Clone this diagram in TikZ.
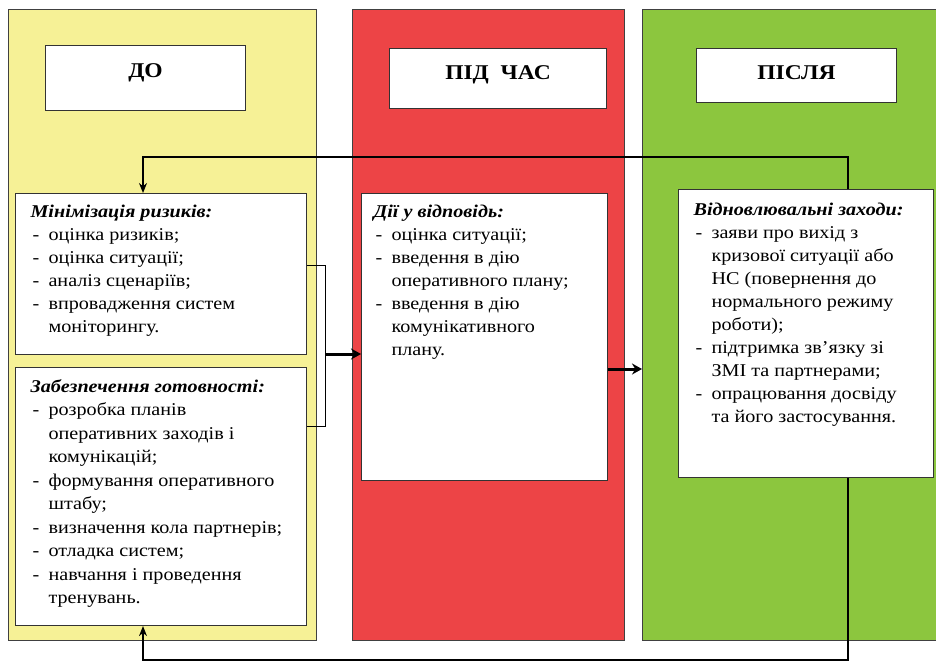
\documentclass[tikz,border=0pt]{standalone}
\usepackage{fontspec}
\setmainfont[FakeStretch=1.12]{Liberation Serif}
\usetikzlibrary{arrows.meta,calc,positioning}

\definecolor{doyellow}{RGB}{246,241,150}
\definecolor{pidred}{RGB}{237,68,70}
\definecolor{pislyagreen}{RGB}{140,198,62}

\newcommand{\itm}{\makebox[18pt][l]{\hspace{2pt}-}}
\newcommand{\cnt}{\hspace*{18pt}}

\tikzstyle{panel}=[
  draw=black!75,
  line width=0.8pt,
  anchor=north west,
  inner sep=0pt,
]
\tikzstyle{header}=[
  draw=black!80,
  fill=white,
  line width=1pt,
  anchor=north west,
  inner sep=0pt,
  font={\fontsize{21}{24}\selectfont\bfseries},
]
\tikzstyle{stage}=[
  draw=black!80,
  fill=white,
  line width=1.1pt,
  anchor=north west,
  inner xsep=15pt,
  inner ysep=8pt,
  font={\fontsize{18}{23}\selectfont},
]
\tikzstyle{link}=[
  draw=black,
  line width=1.4pt,
  -{Stealth[length=10pt,width=8pt]},
]
\tikzstyle{flow}=[
  draw=black,
  line width=3pt,
  -{Stealth[length=10pt,width=11pt]},
]
\tikzstyle{bracket}=[
  draw=black,
  line width=0.9pt,
]

\begin{document}
\begin{tikzpicture}[x=1pt, y=-1pt]
  \useasboundingbox (0,0) rectangle (936,661);
  %% columns
  \node (do) [panel, fill=doyellow, minimum width=308pt, minimum height=631pt] at (8,9) {};
  \node (pid) [panel, fill=pidred, minimum width=272pt, minimum height=631pt] at (352,9) {};
  \node (posle) [panel, fill=pislyagreen, minimum width=300pt, minimum height=631pt] at (642,9) {};
  %% titles
  \node (doh) [header] at (45,45) {\parbox[c][65pt][t]{200pt}{\centering\rule{0pt}{32pt}ДО}};
  \node (pidh) [header] at (389,48) {\parbox[c][60pt][t]{217pt}{\centering\rule{0pt}{31pt}ПІД\ \ ЧАС}};
  \node (pislyah) [header] at (696,48) {\parbox[c][54pt][t]{200pt}{\centering\rule{0pt}{31pt}ПІСЛЯ}};
  %% stages
  \node (mini) [stage] at (15,193) {\parbox[c][145pt][t]{261pt}{\raggedright
    \strut\textbf{\textit{Мінімізація ризиків:}}\\
    \itm оцінка ризиків;\\
    \itm оцінка ситуації;\\
    \itm аналіз сценаріїв;\\
    \itm впровадження систем\\
    \cnt моніторингу.}};
  \node (zab) [stage, font={\fontsize{18}{23.5}\selectfont}] at (15,367) {\parbox[c][242pt][t]{261pt}{\raggedright
    \strut\textbf{\textit{Забезпечення готовності:}}\\
    \itm розробка планів\\
    \cnt оперативних заходів і\\
    \cnt комунікацій;\\
    \itm формування оперативного\\
    \cnt штабу;\\
    \itm визначення кола партнерів;\\
    \itm отладка систем;\\
    \itm навчання і проведення\\
    \cnt тренувань.}};
  \node (dii) [stage, inner xsep=12pt] at (361,193) {\parbox[c][271pt][t]{222pt}{\raggedright
    \strut\textbf{\textit{Дії у відповідь:}}\\
    \itm оцінка ситуації;\\
    \itm введення в дію\\
    \cnt оперативного плану;\\
    \itm введення в дію\\
    \cnt комунікативного\\
    \cnt плану.}};
  \node (vidn) [stage, inner ysep=10pt] at (678,189) {\parbox[c][268pt][t]{225pt}{\raggedright
    \strut\textbf{\textit{Відновлювальні заходи:}}\\
    \itm заяви про вихід з\\
    \cnt кризової ситуації або\\
    \cnt НС (повернення до\\
    \cnt нормального режиму\\
    \cnt роботи);\\
    \itm підтримка зв’язку зі\\
    \cnt ЗМІ та партнерами;\\
    \itm опрацювання досвіду\\
    \cnt та його застосування.}};
  %% loops
  \coordinate (loopR) at (848,157);
  \coordinate (loopL) at (143,157);
  \coordinate (backR) at (848,660);
  \coordinate (backL) at (143,660);
  \draw [link] (loopR |- vidn.north) -- (loopR) -- (loopL) -- (loopL |- mini.north);
  \draw [link] (backR |- vidn.south) -- (backR) -- (backL) -- (backL |- zab.south);
  %% bracket and flow
  \coordinate (A) at ($(mini.north east)+(0,72)$);
  \coordinate (B) at ($(zab.north east)+(0,59)$);
  \coordinate (brk) at (325,354);
  \draw [bracket] (A) -- (A -| brk) -- (B -| brk) -- (B);
  \draw [flow] (brk) -- (brk -| dii.west);
  \coordinate (C) at ($(dii.north east)+(0,176)$);
  \draw [flow] (C) -- (C -| posle.west);
\end{tikzpicture}
\end{document}
